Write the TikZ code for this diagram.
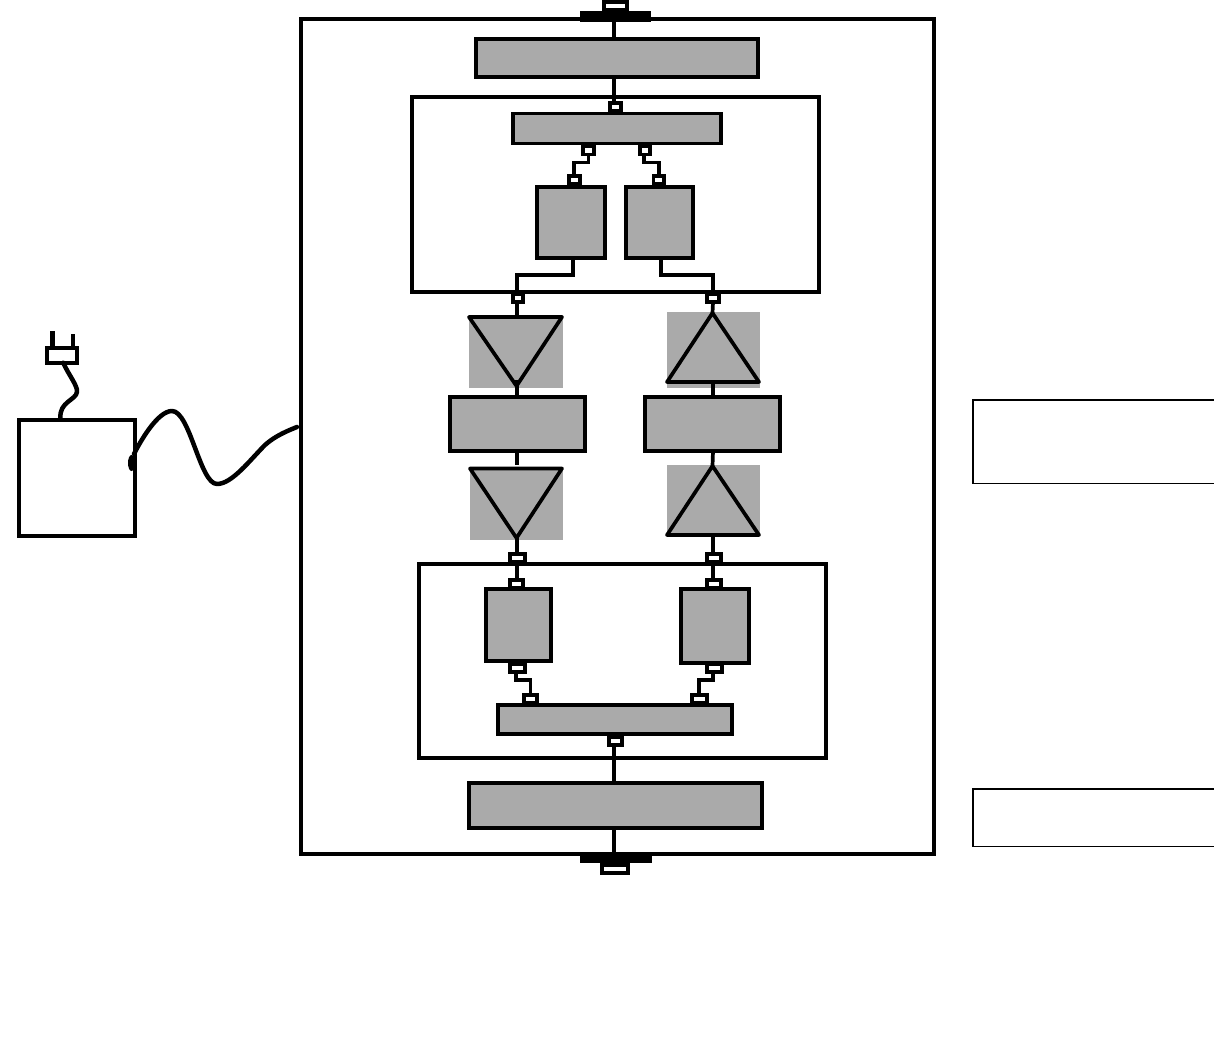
\documentclass[tikz,border=0pt]{standalone}
\usepackage{tikz}
\usetikzlibrary{calc}
\definecolor{panel}{HTML}{AAAAAA}
\newcommand{\px}{0.02cm}

\begin{document}
\begin{tikzpicture}[
  x=0.02cm, y=-0.02cm, line width=0.074cm,
  wh/.style 2 args={minimum width=#1*\px, minimum height=#2*\px},
  base/.style={draw, inner sep=0pt, outer sep=0pt},
  frame/.style={base},
  unit/.style={base, fill=panel},
  port/.style={base, fill=white},
  thinbox/.style={base, line width=0.034cm},
  shade/.style={fill=panel, inner sep=0pt, outer sep=0pt},
  plate/.style={fill=black, inner sep=0pt, outer sep=0pt},
  amp/.style={draw, line join=round},
  wire/.style={line cap=butt},
  cord/.style={line width=0.09cm, line cap=round, line join=round}]
  \useasboundingbox (0,0) rectangle (1214,1061);
  \coordinate (axis) at (614,0);
  \coordinate (colL) at (517,0);
  \coordinate (colR) at (713,0);
  % housing and sub-assemblies
  \node[frame, wh={633}{835}] (case) at (617.5,436.5) {};
  \node[frame, wh={407}{195}] (upper) at (615.5,194.5) {};
  \node[frame, wh={407}{194}] (lower) at (622.5,661) {};
  \node[thinbox, wh={300}{83.5}] (noteA) at (1123,441.8) {};
  \node[thinbox, wh={300}{57.5}] (noteB) at (1123,817.8) {};
  % top connector
  \node[plate, wh={71}{11}] (plateT) at (615.5,16.5) {};
  \node[port, wh={23.5}{7.7}] (jackT) at (615.5,5.8) {};
  \node[unit, wh={282}{38}] (inT) at (617,58) {};
  \node[port, wh={11}{8.5}] (pT) at (615.5,107) {};
  \node[unit, wh={208}{30}] (busT) at (617,128.5) {};
  \node[port, wh={11}{8}] (pT1) at (588.5,150.5) {};
  \node[port, wh={10.5}{8}] (pT2) at (645,150.5) {};
  \node[port, wh={11}{8}] (pT3) at (574.3,180) {};
  \node[port, wh={10.5}{8}] (pT4) at (658.8,180) {};
  \node[unit, wh={68}{71}] (ctlA) at (571,222.5) {};
  \node[unit, wh={67}{71}] (ctlB) at (659.5,222.5) {};
  \node[port, wh={10.5}{8}] (pL1) at (518,298.2) {};
  \node[port, wh={12}{8}] (pR1) at (713,298.2) {};
  % amplifier stages
  \node[shade, wh={94}{73}] (bgL1) at (516,351.5) {};
  \node[shade, wh={93}{76}] (bgR1) at (713.5,350) {};
  \node[unit, wh={135}{54}] (modL) at (517.5,424) {};
  \node[unit, wh={135}{54}] (modR) at (712.5,424) {};
  \node[shade, wh={93}{73}] (bgL2) at (516.5,503.5) {};
  \node[shade, wh={93}{71}] (bgR2) at (713.5,500.5) {};
  \coordinate (tipL1) at (516.5,386);
  \coordinate (tipR1) at (712.5,313);
  \coordinate (tipL2) at (516.5,538);
  \coordinate (tipR2) at (712.5,466);
  \draw[amp] (469,317) -- (562,317) -- (tipL1) -- cycle;
  \draw[amp] (tipR1) -- (759,382) -- (667,382) -- cycle;
  \draw[amp] (470,468.5) -- (562,468.5) -- (tipL2) -- cycle;
  \draw[amp] (tipR2) -- (759,535) -- (667,535) -- cycle;
  % lower half
  \node[port, wh={15}{7.7}] (pL2) at (517.5,557.7) {};
  \node[port, wh={14}{7.7}] (pR2) at (714,557.5) {};
  \node[port, wh={13}{7.7}] (pL3) at (516.5,583.7) {};
  \node[port, wh={14.5}{7.7}] (pR3) at (714,583.7) {};
  \node[unit, wh={65}{72}] (ctlC) at (518.5,625) {};
  \node[unit, wh={68}{74}] (ctlD) at (715,626) {};
  \node[port, wh={15}{8}] (pL4) at (517.5,668) {};
  \node[port, wh={14.5}{7.7}] (pR4) at (714.5,668.3) {};
  \node[port, wh={13.5}{7.7}] (pB1) at (530.5,698.8) {};
  \node[port, wh={15}{7.7}] (pB2) at (699.3,698.8) {};
  \node[unit, wh={234}{29}] (busB) at (615,719.5) {};
  \node[port, wh={13.5}{8}] (pB) at (615.5,741) {};
  \node[unit, wh={293}{45}] (inB) at (615.5,805.5) {};
  \node[plate, wh={72}{11}] (plateB) at (616,857.5) {};
  \node[port, wh={26.3}{8.3}] (jackB) at (615,869) {};
  % links
  \draw[wire] (case.north -| axis) -- (inT.north -| axis);
  \draw[wire] (inT.south -| axis) -- (pT.north -| axis);
  \draw[wire] (pT1.south) -- ++(0,8) -| (pT3.north);
  \draw[wire] (pT2.south) ++(-0.7,0) -- ++(0,8) -| (pT4.north);
  \draw[wire] (ctlA.south -| pT3) ++(-1.3,0) -- ++(0,17) -| (pL1.north -| colL);
  \draw[wire] (ctlB.south) ++(1.5,0) -- ++(0,17) -| (pR1.north -| colR);
  \draw[wire] (pL1.south -| colL) -- (bgL1.north -| colL);
  \draw[wire] (pR1.south) -- (tipR1);
  \draw[wire] (modL.north -| colL) -- ++(0,-17);
  \draw[wire] (modR.north -| colR) -- ++(0,-15);
  \draw[wire] (modL.south -| colL) -- ++(0,14);
  \draw[wire] (modR.south -| colR) -- (tipR2);
  \draw[wire] (tipL2 -| colL) -- (pL2.north -| colL);
  \draw[wire] (pR2.north -| colR) -- ++(0,-18);
  \draw[wire] (pL2.south -| colL) -- (pL3.north -| colL);
  \draw[wire] (pR2.south -| colR) -- (pR3.north -| colR);
  \draw[wire] (pL4.south) ++(-1.5,0) -- ++(0,8) -| (pB1.north);
  \draw[wire] (pR4.south) ++(-1.5,0) -- ++(0,8) -| (pB2.north);
  \draw[wire] (pB.south -| axis) -- (inB.north -| axis);
  \draw[wire] (inB.south -| axis) -- (case.south -| axis);
  % supply and mains plug
  \node[frame, wh={116}{116}] (psu) at (77,478) {};
  \node[base, line width=0.088cm, wh={29.5}{14.5}] (plug) at (62,355.5) {};
  \coordinate (pinA) at (52.5,331);
  \coordinate (pinB) at (73,334);
  \draw[wire, line width=0.09cm] (pinA) -- (pinA |- plug.north);
  \draw[wire, line width=0.08cm] (pinB) -- (pinB |- plug.north);
  \draw[cord] (plug.south) ++(1.3,0) .. controls (68,374) and (78,386) .. (77,392)
    .. controls (76,400) and (59,402) .. (60.5,418);
  \coordinate (lead) at (297,427);
  \draw[cord] (psu.east) ++(-1,-24) .. controls (141,440) and (158,411) .. (172,411)
    .. controls (190,411) and (200,484) .. (217,484)
    .. controls (232,484) and (250,460) .. (265,445)
    .. controls (275,436) and (287,431) .. (lead);
  \fill (131.5,463) ellipse (3.5 and 8);
\end{tikzpicture}
\end{document}
